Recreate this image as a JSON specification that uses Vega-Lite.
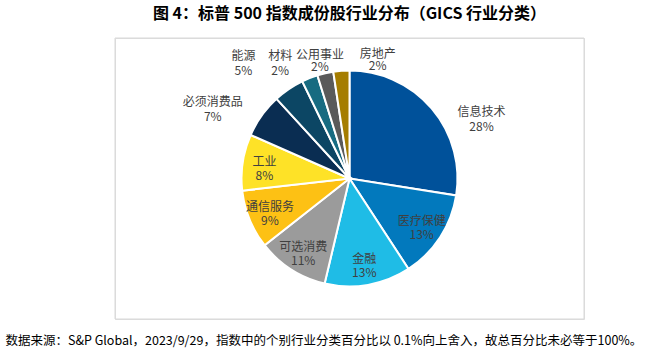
{
  "$schema": "https://vega.github.io/schema/vega-lite/v6.json",
  "padding": {"left": 5, "top": 5, "right": 0, "bottom": 0},
  "background": "white",
  "title": {
    "text": "图 4：标普 500 指数成份股行业分布（GICS 行业分类）",
    "anchor": "middle",
    "frame": "group",
    "fontSize": 16,
    "fontWeight": "bold",
    "font": "Noto Sans CJK SC",
    "color": "#000000",
    "offset": 15.5
  },
  "config": {"text": {"fontSize": 12, "color": "#404040", "font": "Noto Sans CJK SC"}},
  "data": {
    "values": [
      {"sector": "信息技术", "value": 27.5, "pct": "28%", "order": 1},
      {"sector": "医疗保健", "value": 13.3, "pct": "13%", "order": 2},
      {"sector": "金融", "value": 12.9, "pct": "13%", "order": 3},
      {"sector": "可选消费", "value": 10.7, "pct": "11%", "order": 4},
      {"sector": "通信服务", "value": 8.8, "pct": "9%", "order": 5},
      {"sector": "工业", "value": 8.4, "pct": "8%", "order": 6},
      {"sector": "必须消费品", "value": 6.6, "pct": "7%", "order": 7},
      {"sector": "能源", "value": 4.6, "pct": "5%", "order": 8},
      {"sector": "材料", "value": 2.4, "pct": "2%", "order": 9},
      {"sector": "公用事业", "value": 2.4, "pct": "2%", "order": 10},
      {"sector": "房地产", "value": 2.4, "pct": "2%", "order": 11}
    ]
  },
  "vconcat": [
    {
      "width": 469,
      "height": 281,
      "title": {
        "text": "数据来源：S&P Global，2023/9/29，指数中的个别行业分类百分比以 0.1%向上舍入，故总百分比未必等于100%。",
        "orient": "bottom",
        "anchor": "start",
        "dx": -109,
        "offset": 15.5,
        "fontSize": 12.5,
        "fontWeight": "normal",
        "font": "Noto Sans CJK SC",
        "color": "#000000"
      },
      "layer": [
        {
          "data": {"values": [{"frame": 1}]},
          "mark": {"type": "rect", "fill": null, "stroke": "#d9d9d9", "strokeWidth": 1},
          "encoding": {
            "x": {"value": 0},
            "x2": {"value": "width"},
            "y": {"value": 0},
            "y2": {"value": "height"}
          }
        },
        {
          "mark": {"type": "arc", "outerRadius": 108, "stroke": "#ffffff", "strokeWidth": 2},
          "encoding": {
            "theta": {"field": "value", "type": "quantitative", "stack": true},
            "order": {"field": "order", "type": "quantitative"},
            "color": {
              "field": "sector",
              "type": "nominal",
              "legend": null,
              "scale": {
                "domain": ["信息技术", "医疗保健", "金融", "可选消费", "通信服务", "工业", "必须消费品", "能源", "材料", "公用事业", "房地产"],
                "range": ["#00519a", "#0279bd", "#1fbce6", "#9b9b9b", "#fdc114", "#fee227", "#0a2d52", "#0c4664", "#176b81", "#5a5a5a", "#a57d00"]
              }
            }
          }
        },
        {
          "mark": {"type": "text", "radius": 86, "dy": -4},
          "encoding": {
            "theta": {"field": "value", "type": "quantitative", "stack": true},
            "order": {"field": "order", "type": "quantitative"},
            "text": {"condition": {"test": "indexof(['医疗保健','金融','可选消费','通信服务','工业'], datum.sector) >= 0", "field": "sector"}, "value": ""}
          }
        },
        {
          "mark": {"type": "text", "radius": 86, "dy": 10},
          "encoding": {
            "theta": {"field": "value", "type": "quantitative", "stack": true},
            "order": {"field": "order", "type": "quantitative"},
            "text": {"condition": {"test": "indexof(['医疗保健','金融','可选消费','通信服务','工业'], datum.sector) >= 0", "field": "pct"}, "value": ""}
          }
        },
        {
          "transform": [
            {"stack": "value", "groupby": [], "sort": [{"field": "order", "order": "ascending"}], "as": ["v0", "v1"]},
            {"filter": "datum.sector === '信息技术'"}
          ],
          "layer": [
            {"mark": {"type": "text", "radius": 130, "dx": 132, "dy": 63}, "encoding": {"theta": {"field": "v0", "type": "quantitative", "stack": null}, "text": {"field": "sector"}}},
            {"mark": {"type": "text", "radius": 130, "dx": 132, "dy": 78}, "encoding": {"theta": {"field": "v0", "type": "quantitative", "stack": null}, "text": {"field": "pct"}}}
          ]
        },
        {
          "transform": [
            {"stack": "value", "groupby": [], "sort": [{"field": "order", "order": "ascending"}], "as": ["v0", "v1"]},
            {"filter": "datum.sector === '必须消费品'"}
          ],
          "layer": [
            {"mark": {"type": "text", "radius": 130, "dx": -17.7, "dy": -23.8}, "encoding": {"theta": {"field": "v0", "type": "quantitative", "stack": null}, "text": {"field": "sector"}}},
            {"mark": {"type": "text", "radius": 130, "dx": -17.7, "dy": -8.8}, "encoding": {"theta": {"field": "v0", "type": "quantitative", "stack": null}, "text": {"field": "pct"}}}
          ]
        },
        {
          "transform": [
            {"stack": "value", "groupby": [], "sort": [{"field": "order", "order": "ascending"}], "as": ["v0", "v1"]},
            {"filter": "datum.sector === '能源'"}
          ],
          "layer": [
            {"mark": {"type": "text", "radius": 130, "dx": -18.3, "dy": -26.6}, "encoding": {"theta": {"field": "v0", "type": "quantitative", "stack": null}, "text": {"field": "sector"}}},
            {"mark": {"type": "text", "radius": 130, "dx": -18.3, "dy": -11.6}, "encoding": {"theta": {"field": "v0", "type": "quantitative", "stack": null}, "text": {"field": "pct"}}}
          ]
        },
        {
          "transform": [
            {"stack": "value", "groupby": [], "sort": [{"field": "order", "order": "ascending"}], "as": ["v0", "v1"]},
            {"filter": "datum.sector === '材料'"}
          ],
          "layer": [
            {"mark": {"type": "text", "radius": 130, "dx": -12.5, "dy": -6}, "encoding": {"theta": {"field": "v0", "type": "quantitative", "stack": null}, "text": {"field": "sector"}}},
            {"mark": {"type": "text", "radius": 130, "dx": -12.5, "dy": 9}, "encoding": {"theta": {"field": "v0", "type": "quantitative", "stack": null}, "text": {"field": "pct"}}}
          ]
        },
        {
          "transform": [
            {"stack": "value", "groupby": [], "sort": [{"field": "order", "order": "ascending"}], "as": ["v0", "v1"]},
            {"filter": "datum.sector === '公用事业'"}
          ],
          "layer": [
            {"mark": {"type": "text", "radius": 130, "dx": 9, "dy": 0.5}, "encoding": {"theta": {"field": "v0", "type": "quantitative", "stack": null}, "text": {"field": "sector"}}},
            {"mark": {"type": "text", "radius": 130, "dx": 9, "dy": 13}, "encoding": {"theta": {"field": "v0", "type": "quantitative", "stack": null}, "text": {"field": "pct"}}}
          ]
        },
        {
          "transform": [
            {"stack": "value", "groupby": [], "sort": [{"field": "order", "order": "ascending"}], "as": ["v0", "v1"]},
            {"filter": "datum.sector === '房地产'"}
          ],
          "layer": [
            {"mark": {"type": "text", "radius": 130, "dx": 47.7, "dy": 3.9}, "encoding": {"theta": {"field": "v0", "type": "quantitative", "stack": null}, "text": {"field": "sector"}}},
            {"mark": {"type": "text", "radius": 130, "dx": 47.7, "dy": 16.4}, "encoding": {"theta": {"field": "v0", "type": "quantitative", "stack": null}, "text": {"field": "pct"}}}
          ]
        }
      ]
    }
  ]
}
